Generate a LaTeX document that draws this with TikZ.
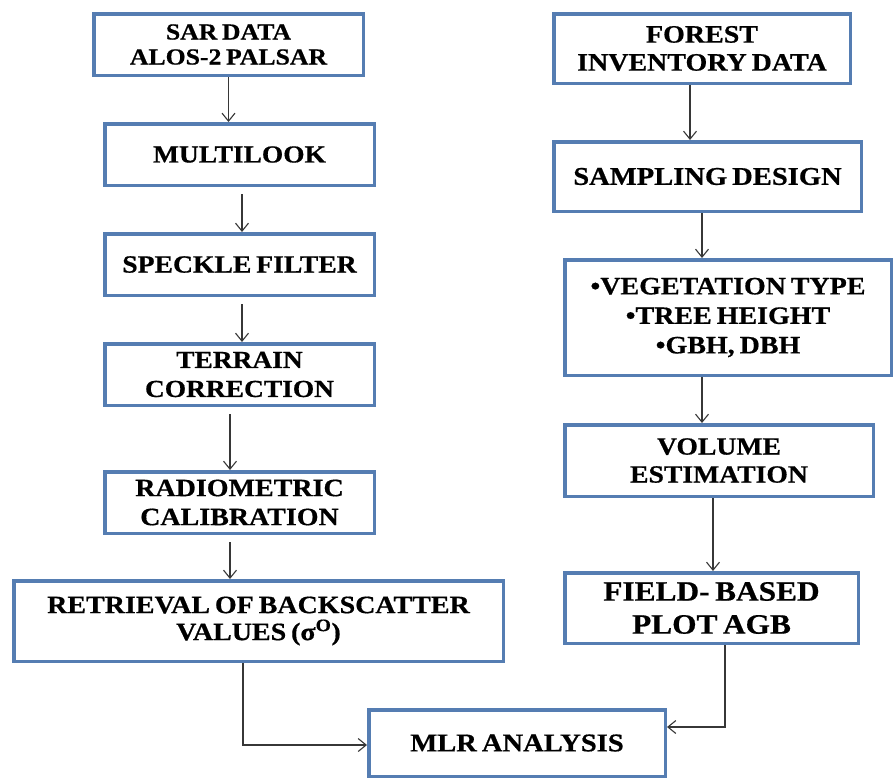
\documentclass[tikz,border=0pt]{standalone}
\usepackage{fontspec}
\setmainfont{Liberation Serif}[BoldFeatures={FakeStretch=1.12,FakeBold=0.6},WordSpace=0.7]
\usetikzlibrary{arrows.meta}
\definecolor{boxblue}{RGB}{85,125,178}
\definecolor{arr}{RGB}{55,55,55}
\begin{document}
\begin{tikzpicture}[x=1pt,y=-1pt,
  box/.style={draw=boxblue,line width=3.5pt,fill=white,align=center,inner sep=0pt},
  fs/.style 2 args={font=\fontsize{#1}{#2}\selectfont\bfseries},
  flow/.style={draw=arr,line width=1.1pt,-{Straight Barb[length=8pt,width=13pt,line width=1.1pt]}}]
\useasboundingbox[fill=white] (0,0) rectangle (896,780);
% left column
\node[box,fs={23}{25},minimum width=269.5pt,minimum height=61.5pt] (sar) at (228.5,44.5) {SAR DATA\\ALOS-2 PALSAR};
\node[box,fs={24.5}{28},minimum width=269.5pt,minimum height=61.5pt] (multi) at (239.5,154.5) {MULTILOOK};
\node[box,fs={24.7}{28},minimum width=269.5pt,minimum height=61.5pt] (speckle) at (239.5,264.5) {SPECKLE FILTER};
\node[box,fs={24.5}{29},minimum width=269.5pt,minimum height=61.5pt] (terrain) at (239.5,374.5) {TERRAIN\\CORRECTION};
\node[box,fs={25}{29},minimum width=269.5pt,minimum height=61.5pt] (radio) at (239.5,502.5) {RADIOMETRIC\\CALIBRATION};
\node[box,fs={25}{27},minimum width=489.5pt,minimum height=80.5pt] (retr) at (258.5,621) {RETRIEVAL OF BACKSCATTER\\VALUES (σ\textsuperscript{O})};
% right column
\node[box,fs={25}{28},minimum width=296.5pt,minimum height=69.5pt] (forest) at (702,48.5) {FOREST\\INVENTORY DATA};
\node[box,fs={25.5}{28},minimum width=307.5pt,minimum height=69.5pt] (sampling) at (707.5,176.5) {SAMPLING DESIGN};
\node[box,fs={25}{29.5},minimum width=326.5pt,minimum height=115.5pt] (veg) at (728,317.5) {\textbullet VEGETATION TYPE\\\textbullet TREE HEIGHT\\\textbullet GBH, DBH};
\node[box,fs={24.7}{28},minimum width=308.5pt,minimum height=71.5pt] (volume) at (719,460.5) {VOLUME\\ESTIMATION};
\node[box,fs={28}{33},minimum width=293.5pt,minimum height=70.5pt] (field) at (711.5,608) {FIELD- BASED\\PLOT AGB};
\node[box,fs={25.5}{28},minimum width=296.5pt,minimum height=66.5pt] (mlr) at (517,743) {MLR ANALYSIS};
% connectors
\draw[flow] (sar.south) -- (sar.south |- multi.north);
\coordinate (a2) at ([xshift=2.5pt,yshift=-7pt]multi.south);
\draw[flow] (a2) -- (a2 |- speckle.north);
\coordinate (a3) at ([xshift=2.5pt,yshift=-7pt]speckle.south);
\draw[flow] (a3) -- (a3 |- terrain.north);
\coordinate (a4) at ([xshift=-9.5pt,yshift=-7pt]terrain.south);
\draw[flow] (a4) -- (a4 |- radio.north);
\coordinate (a5) at ([xshift=-9.5pt,yshift=-7pt]radio.south);
\draw[flow] (a5) -- (a5 |- retr.north);
\coordinate (a6) at ([xshift=-15.5pt]retr.south);
\draw[flow] (a6) |- ([yshift=-2pt]mlr.west);
\coordinate (b1) at ([xshift=-12pt]forest.south);
\draw[flow] (b1) -- (b1 |- sampling.north);
\coordinate (b2) at ([xshift=-5.5pt]sampling.south);
\draw[flow] (b2) -- (b2 |- veg.north);
\coordinate (b3) at ([xshift=-26pt]veg.south);
\draw[flow] (b3) -- (b3 |- volume.north);
\coordinate (b4) at ([xshift=-6pt]volume.south);
\draw[flow] (b4) -- (b4 |- field.north);
\coordinate (b5) at ([xshift=13.5pt]field.south);
\draw[flow] (b5) |- ([yshift=16pt]mlr.east);
\end{tikzpicture}
\end{document}
